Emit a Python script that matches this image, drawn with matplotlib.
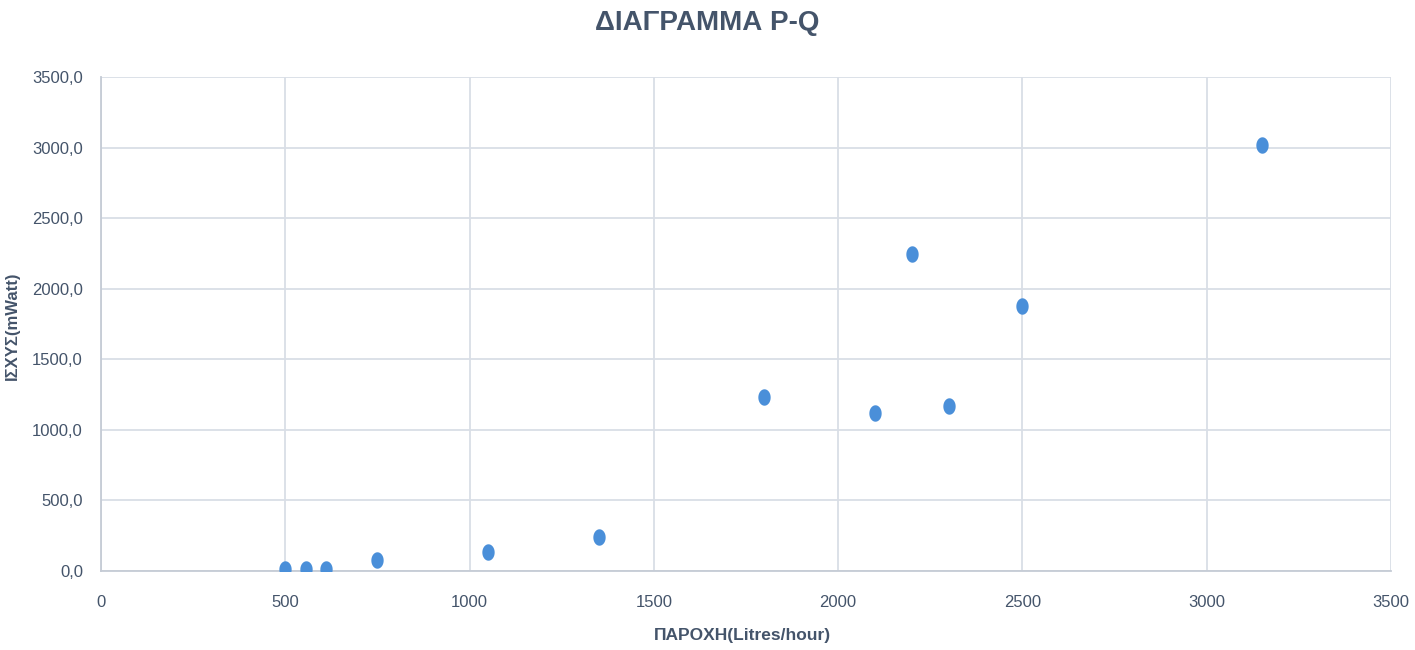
import matplotlib
matplotlib.use("Agg")
import matplotlib.pyplot as plt
import numpy as np
from matplotlib.path import Path
from matplotlib.ticker import FixedLocator, FuncFormatter

plt.rcParams['font.family'] = ['Liberation Sans', 'DejaVu Sans']

title = "ΔΙΑΓΡΑΜΜΑ P-Q"
xlabel = "ΠΑΡΟΧΗ(Litres/hour)"
ylabel = "ΙΣΧΥΣ(mWatt)"
flow = [500, 556, 610, 750, 1050, 1350, 1800, 2100, 2200, 2300, 2500, 3150]
power = [12, 12, 12, 80, 133, 243, 1236, 1120, 2248, 1172, 1880, 3016]
xticks = [0, 500, 1000, 1500, 2000, 2500, 3000, 3500]
yticks = [0, 500, 1000, 1500, 2000, 2500, 3000, 3500]

text_color = '#44546A'
grid_color = '#D9DEE6'
dot_color = '#4A8FD9'

fig = plt.figure(figsize=(14.15, 6.5), dpi=100)
ax = fig.add_axes([101/1415, 79/650, 1290/1415, 494/650])

t = np.linspace(0, 2*np.pi, 60)
ell = Path(np.column_stack([0.75*np.cos(t), np.sin(t)]), closed=True)
ax.scatter(flow, power, s=140, marker=ell, color=dot_color, zorder=3, linewidths=0)

ax.set_xlim(0, 3500)
ax.set_ylim(0, 3500)
ax.xaxis.set_major_locator(FixedLocator(xticks))
ax.yaxis.set_major_locator(FixedLocator(yticks))
ax.yaxis.set_major_formatter(FuncFormatter(lambda v, p: f"{v:.1f}".replace('.', ',')))
ax.grid(True, color=grid_color, linewidth=1.3, zorder=0)
ax.set_axisbelow(True)
for s in ['top', 'right']:
    ax.spines[s].set_visible(False)
for s in ['left', 'bottom']:
    ax.spines[s].set_color('#C5CBD5')
    ax.spines[s].set_linewidth(1.3)
ax.tick_params(length=0, labelsize=12, colors=text_color)
ax.tick_params(axis='y', pad=13)
ax.tick_params(axis='x', pad=17)

ax.set_xlabel(xlabel, fontsize=12.5, fontweight='bold', color=text_color)
ax.xaxis.set_label_coords(0.497, -0.115)
ax.set_ylabel(ylabel, fontsize=12, fontweight='bold', color=text_color)
ax.yaxis.set_label_coords(-0.063, 0.497)
fig.text(707/1415, 1 - 23/650, title, ha='center', va='center', fontsize=20,
         fontweight='bold', color=text_color)

fig.savefig("out.png", dpi=100, facecolor='white')
